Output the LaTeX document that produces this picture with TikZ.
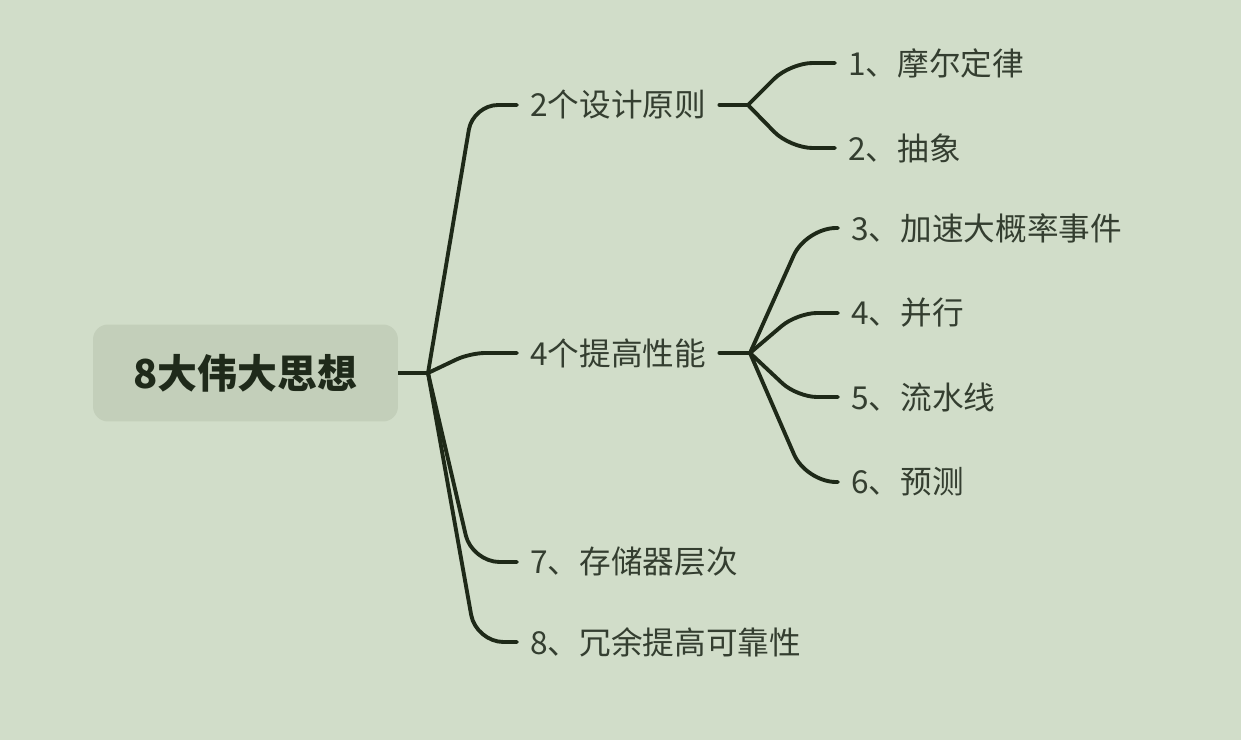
\documentclass[tikz,border=0pt]{standalone}
\usepackage{fontspec}
\setmainfont{Noto Sans CJK SC}
\definecolor{bgsage}{HTML}{D1DDC9}
\definecolor{rootfill}{HTML}{C3CFBA}
\definecolor{linedark}{HTML}{1E2918}
\definecolor{textdark}{HTML}{1F2A1A}
\definecolor{textsoft}{HTML}{343E30}
\begin{document}
\begin{tikzpicture}[x=0.02cm, y=-0.02cm,
  topic/.style={anchor=west, inner xsep=0.26cm, inner ysep=0pt, text=textsoft, font=\fontsize{18}{20}\selectfont},
  branch/.style={line width=2.2pt, draw=linedark, line cap=round, line join=round}]
% background
\fill[bgsage] (0,0) rectangle (1241,740);
% central topic
\node[fill=rootfill, rounded corners=0.3cm, minimum width=6.1cm, minimum height=1.94cm, text=textdark,
  font=\fontsize{22.7}{24}\selectfont\bfseries] (root) at (245.5,373) {8大伟大思想};
\coordinate (hub) at (428,373);
\coordinate (dhub) at (748,105);
\coordinate (phub) at (750,353);
% first level
\node[topic] (design) at (517,105) {2个设计原则};
\node[topic] (perf) at (517,353) {4个提高性能};
\node[topic] (mem) at (517,562) {7、存储器层次};
\node[topic] (redund) at (517,642) {8、冗余提高可靠性};
% second level
\node[topic] (moore) at (835,63) {1、摩尔定律};
\node[topic] (abstr) at (835,148) {2、抽象};
\node[topic] (common) at (838,228) {3、加速大概率事件};
\node[topic] (para) at (838,313) {4、并行};
\node[topic] (pipe) at (838,397) {5、流水线};
\node[topic] (pred) at (838,482) {6、预测};
% connectors
\draw[branch, line cap=butt] (root.east) -- (hub);
\draw[branch, rounded corners=0.5cm] (hub) -- (473,105) -- (design.west);
\draw[branch, rounded corners=0.3cm] (hub) -- (470,353) -- (perf.west);
\draw[branch, rounded corners=0.55cm] (hub) -- (472,562) -- (mem.west);
\draw[branch, rounded corners=0.55cm] (hub) -- (476,642) -- (redund.west);
\draw[branch] (design.east) -- (dhub);
\draw[branch, rounded corners=0.45cm] (dhub) -- (790,63) -- (moore.west);
\draw[branch, rounded corners=0.45cm] (dhub) -- (790,148) -- (abstr.west);
\draw[branch] (perf.east) -- (phub);
\draw[branch, rounded corners=0.6cm] (phub) -- (806,228) -- (common.west);
\draw[branch, rounded corners=0.4cm] (phub) -- (797,313) -- (para.west);
\draw[branch, rounded corners=0.4cm] (phub) -- (797,397) -- (pipe.west);
\draw[branch, rounded corners=0.6cm] (phub) -- (806,482) -- (pred.west);
\end{tikzpicture}
\end{document}
